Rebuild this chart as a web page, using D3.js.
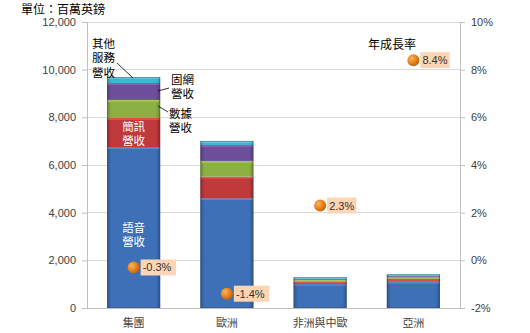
<!DOCTYPE html>
<html><head><meta charset="utf-8">
<script src="https://cdn.jsdelivr.net/npm/d3@7/dist/d3.min.js"></script>
<style>
body{margin:0;background:#fff;}
svg{font-family:"Liberation Sans",Arial,"Noto Sans CJK TC",sans-serif;}
</style></head><body>
<svg id="c" width="530" height="333"></svg>
<script>
const categories = ["集團","歐洲","非洲與中歐","亞洲"];
const voice  = [6750, 4600, 1010, 1100];
const sms    = [1220, 910, 110, 120];
const dataRev= [760, 660, 70, 80];
const fixed  = [710, 670, 60, 60];
const other  = [250, 170, 40, 55];
const growth = [-0.3, -1.4, 2.3, 8.4];
const leftTicks = [0,2000,4000,6000,8000,10000,12000];
const rightTicks = [-2,0,2,4,6,8,10];

const seriesNames = ["voice","sms","data","fixed","other"];
const seriesVals = [voice, sms, dataRev, fixed, other];
const colors = [
  {base:"#3d70b6", dark:"#2c5595", light:"#5a8ccc"},
  {base:"#c0393b", dark:"#94292b", light:"#d85a5b"},
  {base:"#8cb043", dark:"#6b8a2e", light:"#a6c763"},
  {base:"#6e4f9c", dark:"#553a7c", light:"#8a6cb5"},
  {base:"#41b4d1", dark:"#2d94ae", light:"#6fcbe2"}
];

const svg = d3.select("#c");
const L=87, R=460, T=22, B=308;
const x = d3.scaleBand().domain(categories).range([L,R]).paddingInner(0.43).paddingOuter(0.215);
const y = d3.scaleLinear().domain([0,12000]).range([B,T]);
const y2 = d3.scaleLinear().domain([-2,10]).range([B,T]);

const defs = svg.append("defs");
colors.forEach((c,i)=>{
  const g = defs.append("linearGradient").attr("id","g"+i).attr("x1","0").attr("x2","1").attr("y1","0").attr("y2","0");
  g.append("stop").attr("offset","0").attr("stop-color",c.dark);
  g.append("stop").attr("offset","0.08").attr("stop-color",c.base);
  g.append("stop").attr("offset","0.5").attr("stop-color",c.base);
  g.append("stop").attr("offset","0.92").attr("stop-color",c.base);
  g.append("stop").attr("offset","1").attr("stop-color",c.dark);
});
const rg = defs.append("radialGradient").attr("id","dot").attr("cx","0.35").attr("cy","0.35").attr("r","0.7");
rg.append("stop").attr("offset","0").attr("stop-color","#f8b55a");
rg.append("stop").attr("offset","0.6").attr("stop-color","#e5801c");
rg.append("stop").attr("offset","1").attr("stop-color","#c0600a");

// gridlines
svg.append("g").selectAll("line").data(leftTicks).join("line")
  .attr("x1",L).attr("x2",R).attr("y1",d=>y(d)).attr("y2",d=>y(d))
  .attr("stroke","#d9d9d9").attr("stroke-width",1).attr("shape-rendering","crispEdges");

// left axis
const la = svg.append("g").attr("transform",`translate(${L},0)`)
  .call(d3.axisLeft(y).tickValues(leftTicks).tickFormat(d3.format(",")).tickSize(5).tickPadding(6));
la.select(".domain").attr("stroke","#bfbfbf");
la.selectAll(".tick line").attr("stroke","#bfbfbf");
la.selectAll("text").attr("font-size",11).attr("fill","#404040");

// right axis
const ra = svg.append("g").attr("transform",`translate(${R},0)`)
  .call(d3.axisRight(y2).tickValues(rightTicks).tickFormat(d=>d+"%").tickSize(5).tickPadding(6));
ra.select(".domain").attr("stroke","#bfbfbf");
ra.selectAll(".tick line").attr("stroke","#bfbfbf");
ra.selectAll("text").attr("font-size",11).attr("fill","#404040");

// bottom axis labels
const ba = svg.append("g").attr("transform",`translate(0,${B})`)
  .call(d3.axisBottom(x).tickSize(0).tickPadding(11));
ba.select(".domain").attr("stroke","#bfbfbf");
ba.selectAll("text").attr("font-size",11).attr("fill","#404040")
  .attr("font-family","'Noto Sans CJK TC',sans-serif");

// stacked bars
const stackData = categories.map((c,i)=>{const o={cat:c}; seriesNames.forEach((s,j)=>o[s]=seriesVals[j][i]); return o;});
const stacked = d3.stack().keys(seriesNames)(stackData);
stacked.forEach((layer,j)=>{
  const g = svg.append("g");
  g.selectAll("rect").data(layer).join("rect")
    .attr("x",d=>x(d.data.cat)).attr("width",x.bandwidth())
    .attr("y",d=>y(d[1])).attr("height",d=>y(d[0])-y(d[1]))
    .attr("fill",`url(#g${j})`);
  g.selectAll("line").data(layer).join("line")
    .attr("x1",d=>x(d.data.cat)+1).attr("x2",d=>x(d.data.cat)+x.bandwidth()-1)
    .attr("y1",d=>y(d[1])+1).attr("y2",d=>y(d[1])+1)
    .attr("stroke",colors[j].light).attr("stroke-width",1.5);
});
// bar outline
svg.append("g").selectAll("rect").data(stackData).join("rect")
  .attr("x",d=>x(d.cat)+0.5).attr("width",x.bandwidth()-1)
  .attr("y",(d,i)=>y(voice[i]+sms[i]+dataRev[i]+fixed[i]+other[i])+0.5)
  .attr("height",(d,i)=>y(0)-y(voice[i]+sms[i]+dataRev[i]+fixed[i]+other[i])-1)
  .attr("fill","none").attr("stroke","rgba(60,60,80,0.35)").attr("stroke-width",1);

// growth markers
const gp = svg.append("g");
categories.forEach((c,i)=>{
  const cx = x(c)+x.bandwidth()/2, cy = y2(growth[i]);
  const txt = growth[i].toFixed(1)+"%";
  const w = txt.length*6.3+4;
  gp.append("rect").attr("x",cx+7).attr("y",cy-8).attr("width",w).attr("height",16).attr("fill","#fcd5b4");
  gp.append("text").attr("x",cx+9).attr("y",cy+4).attr("font-size",11).attr("fill","#333").text(txt);
  gp.append("circle").attr("cx",cx).attr("cy",cy).attr("r",6).attr("fill","url(#dot)");
});

// text annotations
const cj = "'Noto Sans CJK TC',sans-serif";
function lines(xp,yp,arr,fill,anchor){
  const t = svg.append("text").attr("font-family",cj).attr("font-size",11.5).attr("fill",fill).attr("text-anchor",anchor||"start");
  arr.forEach((s,k)=>t.append("tspan").attr("x",xp).attr("y",yp+k*14.3).text(s));
}
const c0 = x(categories[0])+x.bandwidth()/2;
lines(c0,232,["語音","營收"],"#fff","middle");
lines(c0,131,["簡訊","營收"],"#fff","middle");
lines(92,48,["其他","服務","營收"],"#000");
lines(171,84,["固網","營收"],"#000");
lines(169,118,["數據","營收"],"#000");
svg.append("line").attr("x1",117).attr("y1",63).attr("x2",133).attr("y2",78).attr("stroke","#000").attr("stroke-width",0.8);
svg.append("line").attr("x1",158).attr("y1",91).attr("x2",169).attr("y2",88).attr("stroke","#000").attr("stroke-width",0.8);
svg.append("line").attr("x1",158).attr("y1",106).attr("x2",168).attr("y2",112).attr("stroke","#000").attr("stroke-width",0.8);
svg.append("text").attr("x",368).attr("y",49).attr("font-family",cj).attr("font-size",12).attr("fill","#000").text("年成長率");
svg.append("text").attr("x",21).attr("y",14).attr("font-family",cj).attr("font-size",12).attr("fill","#000").text("單位：百萬英鎊");
</script>
</body></html>
